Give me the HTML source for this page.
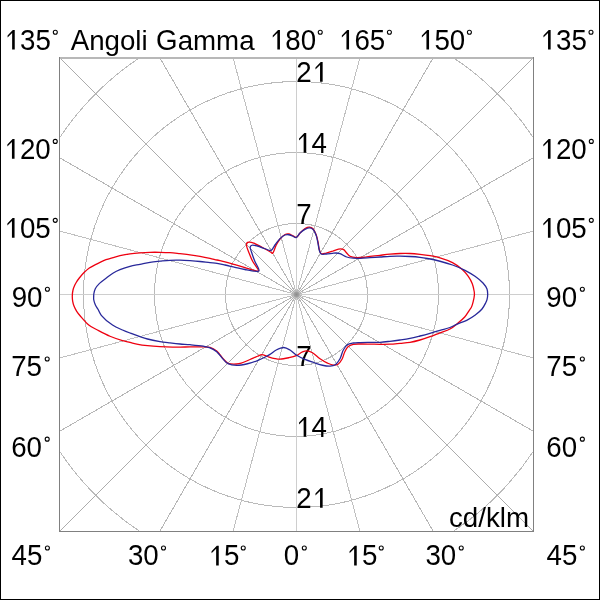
<!DOCTYPE html><html><head><meta charset="utf-8"><style>html,body{margin:0;padding:0;background:#fff}svg{display:block;will-change:transform}text{font-family:"Liberation Sans",sans-serif;font-size:27.7px;fill:#000}</style></head><body>
<svg width="600" height="600" viewBox="0 0 600 600">
<rect x="0" y="0" width="600" height="600" fill="#fff"/>
<defs><clipPath id="c"><rect x="59" y="57" width="475" height="475"/></clipPath></defs>
<g clip-path="url(#c)" fill="none" shape-rendering="crispEdges">
<circle cx="296.5" cy="294.5" r="71" stroke="#bababa" stroke-width="1"/>
<circle cx="296.5" cy="294.5" r="142" stroke="#bababa" stroke-width="1"/>
<circle cx="296.5" cy="294.5" r="213" stroke="#bababa" stroke-width="1"/>
<circle cx="296.5" cy="294.5" r="284" stroke="#bababa" stroke-width="1"/>
<line x1="296.50" y1="298.50" x2="296.50" y2="694.50" stroke="#cecece" stroke-width="1"/>
<line x1="296.50" y1="290.50" x2="296.50" y2="-105.50" stroke="#cecece" stroke-width="1"/>
<line x1="297.54" y1="298.36" x2="400.03" y2="680.87" stroke="#c0c0c0" stroke-width="1"/>
<line x1="295.46" y1="290.64" x2="192.97" y2="-91.87" stroke="#c0c0c0" stroke-width="1"/>
<line x1="298.50" y1="297.96" x2="496.50" y2="640.91" stroke="#b6b6b6" stroke-width="1"/>
<line x1="294.50" y1="291.04" x2="96.50" y2="-51.91" stroke="#b6b6b6" stroke-width="1"/>
<line x1="299.33" y1="297.33" x2="579.34" y2="577.34" stroke="#acacac" stroke-width="1"/>
<line x1="293.67" y1="291.67" x2="13.66" y2="11.66" stroke="#acacac" stroke-width="1"/>
<line x1="299.96" y1="296.50" x2="642.91" y2="494.50" stroke="#b6b6b6" stroke-width="1"/>
<line x1="293.04" y1="292.50" x2="-49.91" y2="94.50" stroke="#b6b6b6" stroke-width="1"/>
<line x1="300.36" y1="295.54" x2="682.87" y2="398.03" stroke="#c0c0c0" stroke-width="1"/>
<line x1="292.64" y1="293.46" x2="-89.87" y2="190.97" stroke="#c0c0c0" stroke-width="1"/>
<line x1="300.50" y1="294.50" x2="696.50" y2="294.50" stroke="#cecece" stroke-width="1"/>
<line x1="292.50" y1="294.50" x2="-103.50" y2="294.50" stroke="#cecece" stroke-width="1"/>
<line x1="300.36" y1="293.46" x2="682.87" y2="190.97" stroke="#c0c0c0" stroke-width="1"/>
<line x1="292.64" y1="295.54" x2="-89.87" y2="398.03" stroke="#c0c0c0" stroke-width="1"/>
<line x1="299.96" y1="292.50" x2="642.91" y2="94.50" stroke="#b6b6b6" stroke-width="1"/>
<line x1="293.04" y1="296.50" x2="-49.91" y2="494.50" stroke="#b6b6b6" stroke-width="1"/>
<line x1="299.33" y1="291.67" x2="579.34" y2="11.66" stroke="#acacac" stroke-width="1"/>
<line x1="293.67" y1="297.33" x2="13.66" y2="577.34" stroke="#acacac" stroke-width="1"/>
<line x1="298.50" y1="291.04" x2="496.50" y2="-51.91" stroke="#b6b6b6" stroke-width="1"/>
<line x1="294.50" y1="297.96" x2="96.50" y2="640.91" stroke="#b6b6b6" stroke-width="1"/>
<line x1="297.54" y1="290.64" x2="400.03" y2="-91.87" stroke="#c0c0c0" stroke-width="1"/>
<line x1="295.46" y1="298.36" x2="192.97" y2="680.87" stroke="#c0c0c0" stroke-width="1"/>
</g>
<defs><radialGradient id="cg"><stop offset="0" stop-color="#8c8c8c"/><stop offset="0.45" stop-color="#a4a4a4"/><stop offset="1" stop-color="#c8c8c8" stop-opacity="0"/></radialGradient></defs>
<circle cx="296.5" cy="294.5" r="6" fill="url(#cg)"/>
<g shape-rendering="crispEdges">
<rect x="59" y="57" width="475" height="2" fill="#b8b8b8"/>
<rect x="59" y="57" width="1" height="475" fill="#808080"/>
<rect x="533" y="57" width="1" height="475" fill="#808080"/>
<rect x="59" y="531" width="475" height="1" fill="#808080"/>
</g>
<rect x="0.5" y="0.5" width="599" height="599" fill="none" stroke="#000" stroke-width="1" shape-rendering="crispEdges"/>
<g fill="#000">
<text transform="translate(4.70,49.60) scale(1,1.035)"> 35</text>
<path d="M550,0L550,1193L212,872L212,1015L600,1409L743,1409L743,0Z" transform="translate(4.700,49.60) scale(0.013525,-0.013999)"/>
<circle cx="55.30" cy="32.25" r="2.0" fill="none" stroke="#000" stroke-width="1.1"/>
<text transform="translate(70.70,49.60) scale(1,1.035)">A</text>
<text x="89.18" y="49.60">ngoli</text>
<text transform="translate(156.10,49.60) scale(1,1.035)">G</text>
<text x="177.65" y="49.60">amma</text>
<text transform="translate(269.90,49.60) scale(1,1.035)"> 80</text>
<path d="M550,0L550,1193L212,872L212,1015L600,1409L743,1409L743,0Z" transform="translate(269.900,49.60) scale(0.013525,-0.013999)"/>
<circle cx="320.25" cy="32.25" r="2.0" fill="none" stroke="#000" stroke-width="1.1"/>
<text transform="translate(339.00,49.60) scale(1,1.035)"> 65</text>
<path d="M550,0L550,1193L212,872L212,1015L600,1409L743,1409L743,0Z" transform="translate(339.000,49.60) scale(0.013525,-0.013999)"/>
<circle cx="389.40" cy="32.25" r="2.0" fill="none" stroke="#000" stroke-width="1.1"/>
<text transform="translate(419.00,49.60) scale(1,1.035)"> 50</text>
<path d="M550,0L550,1193L212,872L212,1015L600,1409L743,1409L743,0Z" transform="translate(419.000,49.60) scale(0.013525,-0.013999)"/>
<circle cx="469.40" cy="32.25" r="2.0" fill="none" stroke="#000" stroke-width="1.1"/>
<text transform="translate(540.60,49.60) scale(1,1.035)"> 35</text>
<path d="M550,0L550,1193L212,872L212,1015L600,1409L743,1409L743,0Z" transform="translate(540.600,49.60) scale(0.013525,-0.013999)"/>
<circle cx="591.00" cy="32.25" r="2.0" fill="none" stroke="#000" stroke-width="1.1"/>
<text transform="translate(4.50,158.75) scale(1,1.035)"> 20</text>
<path d="M550,0L550,1193L212,872L212,1015L600,1409L743,1409L743,0Z" transform="translate(4.500,158.75) scale(0.013525,-0.013999)"/>
<circle cx="55.25" cy="141.40" r="2.0" fill="none" stroke="#000" stroke-width="1.1"/>
<text transform="translate(4.50,237.70) scale(1,1.035)"> 05</text>
<path d="M550,0L550,1193L212,872L212,1015L600,1409L743,1409L743,0Z" transform="translate(4.500,237.70) scale(0.013525,-0.013999)"/>
<circle cx="55.25" cy="220.35" r="2.0" fill="none" stroke="#000" stroke-width="1.1"/>
<text transform="translate(11.70,306.60) scale(1,1.035)">90</text>
<circle cx="47.40" cy="289.25" r="2.0" fill="none" stroke="#000" stroke-width="1.1"/>
<text transform="translate(11.20,376.30) scale(1,1.035)">75</text>
<circle cx="47.20" cy="358.95" r="2.0" fill="none" stroke="#000" stroke-width="1.1"/>
<text transform="translate(11.20,456.50) scale(1,1.035)">60</text>
<circle cx="47.20" cy="439.15" r="2.0" fill="none" stroke="#000" stroke-width="1.1"/>
<text transform="translate(11.50,565.40) scale(1,1.035)">45</text>
<circle cx="47.40" cy="548.05" r="2.0" fill="none" stroke="#000" stroke-width="1.1"/>
<text transform="translate(127.90,565.40) scale(1,1.035)">30</text>
<circle cx="163.50" cy="548.05" r="2.0" fill="none" stroke="#000" stroke-width="1.1"/>
<text transform="translate(208.70,565.40) scale(1,1.035)"> 5</text>
<path d="M550,0L550,1193L212,872L212,1015L600,1409L743,1409L743,0Z" transform="translate(208.700,565.40) scale(0.013525,-0.013999)"/>
<circle cx="243.25" cy="548.05" r="2.0" fill="none" stroke="#000" stroke-width="1.1"/>
<text transform="translate(283.70,565.40) scale(1,1.035)">0</text>
<circle cx="304.30" cy="548.05" r="2.0" fill="none" stroke="#000" stroke-width="1.1"/>
<text transform="translate(346.70,565.40) scale(1,1.035)"> 5</text>
<path d="M550,0L550,1193L212,872L212,1015L600,1409L743,1409L743,0Z" transform="translate(346.700,565.40) scale(0.013525,-0.013999)"/>
<circle cx="381.25" cy="548.05" r="2.0" fill="none" stroke="#000" stroke-width="1.1"/>
<text transform="translate(425.40,565.40) scale(1,1.035)">30</text>
<circle cx="461.25" cy="548.05" r="2.0" fill="none" stroke="#000" stroke-width="1.1"/>
<text transform="translate(546.60,565.40) scale(1,1.035)">45</text>
<circle cx="582.35" cy="548.05" r="2.0" fill="none" stroke="#000" stroke-width="1.1"/>
<text transform="translate(540.50,158.75) scale(1,1.035)"> 20</text>
<path d="M550,0L550,1193L212,872L212,1015L600,1409L743,1409L743,0Z" transform="translate(540.500,158.75) scale(0.013525,-0.013999)"/>
<circle cx="591.30" cy="141.40" r="2.0" fill="none" stroke="#000" stroke-width="1.1"/>
<text transform="translate(540.50,237.70) scale(1,1.035)"> 05</text>
<path d="M550,0L550,1193L212,872L212,1015L600,1409L743,1409L743,0Z" transform="translate(540.500,237.70) scale(0.013525,-0.013999)"/>
<circle cx="591.30" cy="220.35" r="2.0" fill="none" stroke="#000" stroke-width="1.1"/>
<text transform="translate(546.25,306.60) scale(1,1.035)">90</text>
<circle cx="582.35" cy="289.25" r="2.0" fill="none" stroke="#000" stroke-width="1.1"/>
<text transform="translate(546.30,376.30) scale(1,1.035)">75</text>
<circle cx="582.35" cy="358.95" r="2.0" fill="none" stroke="#000" stroke-width="1.1"/>
<text transform="translate(546.30,456.50) scale(1,1.035)">60</text>
<circle cx="582.35" cy="439.15" r="2.0" fill="none" stroke="#000" stroke-width="1.1"/>
<text transform="translate(449.00,527.10) scale(1,1.000)">cd/klm</text>
<text transform="translate(296.20,81.80) scale(1,1.035)">2 </text>
<path d="M550,0L550,1193L212,872L212,1015L600,1409L743,1409L743,0Z" transform="translate(312.605,81.80) scale(0.013525,-0.013999)"/>
<text transform="translate(296.20,152.80) scale(1,1.035)"> 4</text>
<path d="M550,0L550,1193L212,872L212,1015L600,1409L743,1409L743,0Z" transform="translate(296.200,152.80) scale(0.013525,-0.013999)"/>
<text transform="translate(296.20,223.80) scale(1,1.035)">7</text>
<text transform="translate(296.20,365.70) scale(1,1.035)">7</text>
<text transform="translate(296.20,436.80) scale(1,1.035)"> 4</text>
<path d="M550,0L550,1193L212,872L212,1015L600,1409L743,1409L743,0Z" transform="translate(296.200,436.80) scale(0.013525,-0.013999)"/>
<text transform="translate(296.20,507.80) scale(1,1.035)">2 </text>
<path d="M550,0L550,1193L212,872L212,1015L600,1409L743,1409L743,0Z" transform="translate(312.605,507.80) scale(0.013525,-0.013999)"/>
</g>
<g fill="none" stroke-width="1.3" stroke-linejoin="round">
<path d="M72.30,296.00 C72.34,294.06 72.56,291.85 73.00,290.00 C73.40,288.31 74.10,286.65 74.70,285.30 C75.18,284.23 75.58,283.52 76.20,282.50 C77.02,281.16 78.09,279.55 79.30,278.00 C80.72,276.17 82.57,274.01 84.30,272.30 C85.91,270.70 87.44,269.29 89.30,268.00 C91.31,266.61 94.04,265.33 96.00,264.30 C97.50,263.51 98.52,262.99 100.00,262.30 C101.79,261.47 103.90,260.47 106.00,259.70 C108.22,258.89 110.66,258.27 113.00,257.60 C115.33,256.93 117.45,256.29 120.00,255.70 C123.02,255.00 126.66,254.28 130.00,253.80 C133.32,253.32 136.66,253.05 140.00,252.80 C143.33,252.55 146.67,252.38 150.00,252.30 C153.33,252.22 156.67,252.23 160.00,252.30 C163.33,252.37 166.67,252.47 170.00,252.70 C173.34,252.93 176.67,253.35 180.00,253.70 C183.33,254.05 186.67,254.37 190.00,254.80 C193.34,255.23 196.67,255.72 200.00,256.30 C203.34,256.88 206.97,257.63 210.00,258.30 C212.55,258.86 214.59,259.44 217.00,260.00 C219.58,260.60 222.20,261.08 225.00,261.80 C228.16,262.61 231.67,263.72 235.00,264.70 C238.34,265.68 241.71,266.72 245.00,267.70 C248.21,268.65 252.01,269.98 254.50,270.50 C256.07,270.83 258.00,271.61 258.40,271.00 C259.09,269.95 254.06,264.08 252.50,261.00 C251.23,258.50 250.46,256.43 249.50,254.00 C248.49,251.44 246.86,248.05 246.60,246.00 C246.45,244.78 246.42,243.63 246.90,243.00 C247.32,242.46 248.15,242.28 249.00,242.20 C250.25,242.09 251.97,242.50 253.75,243.10 C256.28,243.96 259.60,245.95 262.50,247.50 C265.44,249.08 269.66,251.48 271.25,252.50 C271.87,252.90 272.06,253.52 272.50,253.40 C273.59,253.11 274.91,247.52 276.25,245.00 C277.43,242.79 278.52,240.77 280.00,239.00 C281.45,237.28 283.33,235.27 285.00,234.50 C286.25,233.92 287.52,233.83 288.75,234.00 C290.02,234.17 291.25,235.04 292.50,235.60 C293.77,236.17 295.13,237.65 296.30,237.40 C297.66,237.11 298.63,234.52 300.00,233.10 C301.50,231.55 303.27,229.50 305.00,228.50 C306.42,227.67 308.01,227.02 309.40,227.10 C310.70,227.17 312.05,227.75 313.10,228.75 C314.47,230.06 315.43,232.77 316.25,235.00 C317.12,237.34 317.57,239.99 318.10,242.50 C318.62,244.99 318.74,247.97 319.40,250.00 C319.89,251.51 320.20,253.19 321.25,253.75 C322.40,254.37 324.51,253.47 326.25,253.10 C328.23,252.68 330.45,251.92 332.50,251.25 C334.53,250.59 336.58,249.39 338.50,249.10 C340.16,248.85 341.94,248.67 343.30,249.30 C344.69,249.94 345.56,251.81 346.70,253.00 C347.80,254.14 348.56,255.52 350.00,256.30 C351.74,257.24 354.23,257.54 356.70,257.70 C359.69,257.89 363.13,257.26 366.70,256.90 C370.82,256.49 375.88,255.77 380.00,255.30 C383.57,254.89 386.66,254.50 390.00,254.20 C393.33,253.90 396.66,253.62 400.00,253.50 C403.33,253.38 406.67,253.37 410.00,253.50 C413.34,253.63 416.67,253.95 420.00,254.30 C423.34,254.65 426.68,255.02 430.00,255.60 C433.35,256.18 436.52,256.76 440.00,257.80 C443.98,258.99 448.76,260.62 452.50,262.60 C455.92,264.41 459.00,266.63 461.70,269.00 C464.23,271.22 466.49,273.74 468.30,276.30 C469.97,278.66 471.31,281.13 472.30,283.70 C473.26,286.21 473.89,289.40 474.20,291.50 C474.41,292.89 474.48,293.66 474.40,295.00 C474.28,296.84 473.71,299.44 473.20,301.50 C472.73,303.42 472.24,305.44 471.50,307.00 C470.89,308.29 470.17,309.01 469.30,310.30 C468.05,312.15 466.52,314.93 464.70,317.00 C462.78,319.18 460.38,321.05 458.00,323.00 C455.49,325.06 452.94,327.38 450.00,329.00 C446.96,330.67 443.33,331.52 440.00,332.80 C436.66,334.08 433.35,335.50 430.00,336.70 C426.68,337.89 423.36,339.06 420.00,340.00 C416.69,340.93 413.35,341.75 410.00,342.30 C406.68,342.84 403.33,342.98 400.00,343.30 C396.67,343.62 393.34,344.03 390.00,344.20 C386.67,344.37 383.33,344.32 380.00,344.30 C376.67,344.28 373.33,344.15 370.00,344.10 C366.67,344.05 363.00,343.93 360.00,344.00 C357.54,344.06 355.36,343.91 353.30,344.40 C351.39,344.86 349.42,345.48 348.00,346.70 C346.52,347.97 345.66,350.04 344.70,352.00 C343.63,354.19 343.20,357.18 342.00,359.30 C340.91,361.22 339.59,363.36 338.00,364.30 C336.63,365.11 334.93,365.23 333.30,365.10 C331.45,364.95 329.51,364.02 327.50,363.10 C325.11,362.01 322.44,360.42 320.00,358.75 C317.43,356.99 314.93,354.07 312.50,352.75 C310.59,351.72 308.67,350.98 306.90,350.90 C305.36,350.83 304.04,351.29 302.50,351.90 C300.54,352.68 298.49,354.63 296.25,355.60 C293.92,356.60 291.36,357.16 288.75,357.75 C285.96,358.38 282.51,359.14 280.00,359.20 C278.11,359.24 276.82,358.96 275.00,358.60 C272.74,358.15 269.81,357.21 267.50,356.50 C265.49,355.88 263.65,354.57 261.90,354.60 C260.34,354.62 259.15,355.58 257.50,356.25 C255.32,357.13 252.60,358.39 250.00,359.50 C247.20,360.70 243.73,362.47 241.25,363.20 C239.52,363.71 238.47,363.92 236.70,364.00 C234.27,364.11 230.32,364.33 228.00,363.30 C226.01,362.42 224.94,360.64 223.30,358.90 C221.22,356.70 219.11,352.99 216.70,351.00 C214.62,349.29 212.55,348.01 210.00,347.30 C207.08,346.49 203.67,346.96 200.00,346.90 C195.51,346.83 189.77,346.97 185.00,347.00 C180.64,347.03 176.67,347.17 172.50,347.10 C168.33,347.03 164.16,346.85 160.00,346.60 C155.83,346.35 151.38,346.02 147.50,345.60 C144.11,345.23 141.02,344.86 138.00,344.30 C135.21,343.78 132.62,343.03 130.00,342.40 C127.46,341.79 125.29,341.42 122.50,340.60 C118.84,339.53 114.11,337.98 110.00,336.25 C105.78,334.47 101.27,332.02 97.50,330.00 C94.30,328.29 91.49,327.16 88.75,325.00 C85.72,322.61 82.48,318.56 80.30,316.00 C78.79,314.22 77.75,312.96 76.70,311.30 C75.65,309.63 74.68,307.75 74.00,306.00 C73.39,304.42 72.98,302.93 72.70,301.30 C72.40,299.60 72.26,297.82 72.30,296.00Z" stroke="#ee0010"/>
<path d="M93.70,296.30 C93.72,295.47 93.65,294.91 93.80,294.00 C94.03,292.59 94.44,290.38 95.30,288.70 C96.26,286.83 97.80,285.10 99.50,283.40 C101.49,281.41 104.33,279.48 106.70,277.70 C108.93,276.03 111.04,274.35 113.30,273.00 C115.47,271.70 117.51,270.73 120.00,269.70 C122.97,268.47 126.64,267.20 130.00,266.30 C133.30,265.41 136.67,264.97 140.00,264.30 C143.33,263.63 146.66,262.82 150.00,262.30 C153.32,261.79 156.67,261.53 160.00,261.20 C163.33,260.87 166.66,260.47 170.00,260.30 C173.33,260.13 176.67,260.13 180.00,260.20 C183.33,260.27 186.67,260.48 190.00,260.70 C193.33,260.92 196.67,261.17 200.00,261.50 C203.34,261.83 206.96,262.37 210.00,262.70 C212.54,262.98 214.60,263.04 217.00,263.40 C219.59,263.79 222.19,264.40 225.00,265.00 C228.15,265.68 231.66,266.55 235.00,267.30 C238.33,268.05 241.66,268.85 245.00,269.50 C248.33,270.15 252.41,271.05 255.00,271.20 C256.63,271.30 258.49,271.81 259.00,271.00 C259.86,269.63 255.80,263.84 254.50,260.50 C253.34,257.54 252.26,254.47 251.50,252.00 C250.93,250.13 249.89,248.18 250.20,247.00 C250.41,246.19 251.07,245.54 251.90,245.25 C253.16,244.81 255.53,245.51 257.50,246.00 C259.85,246.58 262.62,247.99 265.00,248.75 C267.10,249.42 269.32,250.99 271.00,250.40 C272.81,249.77 273.81,246.45 275.30,244.50 C276.81,242.52 278.29,240.23 280.00,238.60 C281.55,237.13 283.37,235.59 285.00,235.00 C286.27,234.54 287.52,234.59 288.75,234.75 C290.02,234.91 291.26,235.54 292.50,236.00 C293.76,236.46 295.09,237.79 296.25,237.50 C297.63,237.16 298.57,234.43 300.00,233.10 C301.48,231.72 303.32,230.28 305.00,229.40 C306.45,228.64 308.00,227.86 309.40,227.90 C310.69,227.94 312.06,228.44 313.10,229.40 C314.48,230.67 315.43,233.34 316.25,235.60 C317.15,238.08 317.56,241.15 318.10,243.75 C318.60,246.13 318.74,248.75 319.40,250.60 C319.89,251.98 320.24,253.40 321.25,254.00 C322.40,254.69 324.49,254.10 326.25,254.00 C328.22,253.89 330.72,253.48 332.50,253.30 C333.83,253.17 334.80,252.95 336.00,253.00 C337.29,253.06 338.53,253.22 340.00,253.70 C341.99,254.35 344.42,256.25 346.70,257.00 C348.86,257.71 351.08,257.98 353.30,258.20 C355.52,258.42 357.54,258.36 360.00,258.30 C363.00,258.23 366.67,257.92 370.00,257.70 C373.33,257.48 376.67,257.23 380.00,257.00 C383.33,256.77 386.66,256.43 390.00,256.30 C393.33,256.17 396.67,256.17 400.00,256.20 C403.33,256.23 406.67,256.32 410.00,256.50 C413.34,256.68 416.91,256.93 420.00,257.30 C422.69,257.62 424.69,257.97 427.50,258.50 C431.15,259.19 435.85,260.17 440.00,261.25 C444.19,262.34 448.37,263.51 452.50,265.00 C456.71,266.52 461.13,268.33 465.00,270.30 C468.59,272.13 471.93,274.11 475.00,276.30 C477.90,278.37 480.91,280.67 483.00,283.00 C484.73,284.93 486.24,286.97 487.00,289.00 C487.66,290.75 487.70,292.52 487.70,294.30 C487.70,296.09 487.42,298.15 487.00,299.70 C486.66,300.96 486.23,301.76 485.60,303.00 C484.72,304.73 483.56,307.11 482.00,309.00 C480.23,311.14 477.76,313.16 475.30,315.00 C472.69,316.95 469.74,318.77 466.70,320.30 C463.56,321.88 459.68,322.99 456.70,324.30 C454.22,325.38 452.50,326.56 450.00,327.50 C447.04,328.61 443.33,329.33 440.00,330.30 C436.66,331.27 433.34,332.35 430.00,333.30 C426.67,334.25 423.34,335.15 420.00,336.00 C416.67,336.85 413.35,337.73 410.00,338.40 C406.68,339.06 403.34,339.52 400.00,340.00 C396.67,340.48 393.34,340.92 390.00,341.30 C386.67,341.68 383.34,342.12 380.00,342.30 C376.67,342.48 373.33,342.35 370.00,342.40 C366.67,342.45 363.00,342.48 360.00,342.60 C357.54,342.70 355.45,342.64 353.30,343.00 C351.23,343.35 348.95,343.57 347.30,344.70 C345.60,345.87 344.45,347.92 343.30,350.00 C341.94,352.46 341.43,356.16 340.00,358.70 C338.70,361.00 337.15,363.48 335.30,364.70 C333.73,365.73 331.93,365.96 330.00,366.10 C327.73,366.27 325.07,365.79 322.50,365.25 C319.67,364.65 316.66,363.47 313.75,362.50 C310.82,361.52 307.88,360.63 305.00,359.40 C302.04,358.14 298.85,356.66 296.25,355.00 C293.90,353.50 292.18,351.27 290.00,350.00 C288.00,348.83 285.94,347.56 283.75,347.50 C281.38,347.43 278.56,348.83 276.25,350.00 C273.98,351.15 271.85,353.24 270.00,354.40 C268.62,355.27 267.78,355.72 266.25,356.50 C263.96,357.68 260.56,359.41 257.50,360.60 C254.32,361.84 250.93,362.97 247.50,363.75 C244.00,364.55 240.10,365.39 236.70,365.30 C233.64,365.22 230.33,364.76 228.00,363.60 C226.03,362.62 224.94,361.07 223.30,359.40 C221.22,357.28 219.09,353.69 216.70,351.70 C214.61,349.96 212.30,348.72 210.00,347.80 C207.83,346.93 205.93,346.66 203.30,346.20 C199.64,345.56 194.12,345.08 190.00,344.70 C186.43,344.37 183.33,344.30 180.00,344.00 C176.66,343.70 173.33,343.30 170.00,342.90 C166.66,342.50 163.51,342.19 160.00,341.60 C156.05,340.93 151.97,340.23 147.50,339.00 C142.11,337.52 134.60,334.71 130.00,333.00 C126.96,331.87 125.15,331.19 122.50,330.00 C119.38,328.60 115.79,327.20 112.50,325.00 C108.71,322.47 103.77,318.36 101.30,315.30 C99.62,313.22 99.06,311.16 98.00,309.30 C97.07,307.66 96.01,306.32 95.30,304.70 C94.58,303.06 93.93,301.04 93.70,299.50 C93.52,298.32 93.68,297.28 93.70,296.30Z" stroke="#28289a"/>
</g>
</svg></body></html>
